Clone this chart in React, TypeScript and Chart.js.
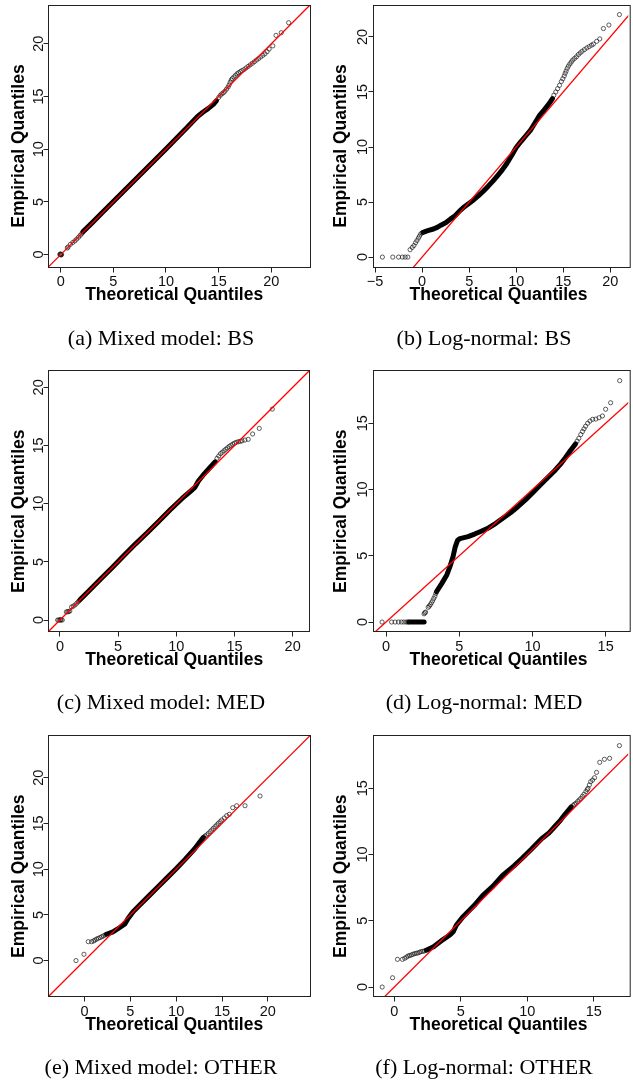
import { useEffect, useRef } from "react";
import { Chart, registerables } from "chart.js";

Chart.register(...registerables);

type Pt = [number, number];

// ---------- (a) Mixed model: BS ----------
const mixedBsBand: Pt[] = [
  [2.1, 2.15], [3, 3.03], [4, 4.03], [5, 5.03], [6, 6.03], [7, 7.02], [8, 8.02],
  [9, 9.02], [10, 10.02], [11, 11.03], [12, 12.05], [13, 13.1], [13.5, 13.5],
  [14.0, 13.85], [14.5, 14.25], [14.8, 14.6],
];
const mixedBsPoints: Pt[] = [
  [-0.08, 0], [0, 0], [0.08, 0], [0, 0.05], [0.04, -0.04], [-0.04, 0.04],
  [0.62, 0.62], [0.7, 0.72], [0.92, 0.97], [1.15, 1.15], [1.35, 1.3], [1.52, 1.47],
  [1.7, 1.65], [1.85, 1.82], [2.0, 1.98],
  [15.0, 14.9], [15.15, 15.1], [15.3, 15.25], [15.45, 15.35], [15.6, 15.5], [15.75, 15.7],
  [15.9, 15.9], [16.0, 16.1], [16.1, 16.35], [16.2, 16.55], [16.3, 16.7], [16.45, 16.85],
  [16.6, 17.0], [16.75, 17.15], [16.9, 17.25], [17.05, 17.35], [17.2, 17.45], [17.4, 17.55],
  [17.6, 17.7], [17.8, 17.85], [18.0, 18.0], [18.2, 18.15], [18.4, 18.3], [18.6, 18.45],
  [18.8, 18.6], [19.0, 18.75], [19.2, 18.9], [19.4, 19.05], [19.6, 19.25], [19.8, 19.5],
  [20.15, 19.8], [20.45, 20.8], [20.95, 21.05], [21.65, 22.0],
];

// ---------- (b) Log-normal: BS ----------
const lognormBsBand: Pt[] = [
  [0.1, 2.25], [0.6, 2.4], [1.2, 2.55], [1.6, 2.7], [2.0, 2.9], [2.5, 3.12], [3.0, 3.45],
  [3.5, 3.75], [4.0, 4.2], [4.5, 4.58], [5.0, 4.9], [5.5, 5.22], [6.0, 5.58], [6.5, 5.98],
  [7.0, 6.42], [7.5, 6.88], [8.0, 7.38], [8.5, 7.9], [9.0, 8.5], [9.5, 9.2], [10.0, 9.95],
  [10.5, 10.5], [11.0, 11.0], [11.5, 11.5], [12.0, 12.2], [12.5, 12.9], [13.0, 13.4],
  [13.5, 13.95], [13.85, 14.4],
];
const lognormBsPoints: Pt[] = [
  [-4.22, 0], [-3.12, 0], [-2.5, 0], [-2.1, 0], [-1.8, 0], [-1.52, 0],
  [-1.28, 0.67], [-1.05, 0.88], [-0.87, 1.05], [-0.7, 1.3], [-0.55, 1.5], [-0.4, 1.72],
  [-0.28, 1.9], [-0.15, 2.1], [0.0, 2.2],
  [14.0, 14.7], [14.2, 15.0], [14.4, 15.3], [14.6, 15.6], [14.8, 15.95], [14.95, 16.2],
  [15.1, 16.45], [15.2, 16.7], [15.3, 16.9], [15.42, 17.15], [15.55, 17.35], [15.7, 17.55],
  [15.85, 17.72], [16.0, 17.9], [16.2, 18.05], [16.4, 18.2], [16.6, 18.4], [16.8, 18.55],
  [17.0, 18.7], [17.25, 18.85], [17.5, 19.0], [17.75, 19.12], [18.0, 19.25], [18.2, 19.35],
  [18.55, 19.6], [18.88, 19.82], [19.27, 20.76], [19.85, 21.08], [20.97, 22.03],
];

// ---------- (c) Mixed model: MED ----------
const mixedMedBand: Pt[] = [
  [1.7, 1.72], [2.5, 2.52], [3.5, 3.52], [4.5, 4.52], [5.5, 5.55], [6.5, 6.55], [7.5, 7.5],
  [8.5, 8.5], [9.5, 9.5], [10.5, 10.45], [11.2, 11.05], [11.6, 11.4], [11.9, 11.95],
  [12.3, 12.45], [12.8, 13.0], [13.35, 13.6],
];
const mixedMedPoints: Pt[] = [
  [-0.2, 0], [-0.1, 0], [0, 0], [0.1, 0], [0.2, 0], [0.05, 0.05],
  [0.55, 0.7], [0.65, 0.72], [0.75, 0.72], [0.85, 0.78], [1.0, 1.12], [1.15, 1.2],
  [1.3, 1.3], [1.45, 1.45], [1.58, 1.58],
  [13.5, 13.9], [13.65, 14.1], [13.8, 14.3], [13.95, 14.42], [14.1, 14.55], [14.25, 14.68],
  [14.4, 14.8], [14.55, 14.92], [14.7, 15.02], [14.85, 15.12], [15.0, 15.2], [15.15, 15.27],
  [15.33, 15.33], [15.5, 15.36], [15.65, 15.4], [15.9, 15.47], [16.18, 15.53],
  [16.56, 15.99], [17.13, 16.47], [18.25, 18.13],
];

// ---------- (d) Log-normal: MED ----------
const lognormMedZeroBand: Pt[] = [[1.55, 0], [2.6, 0]];
const lognormMedBand: Pt[] = [
  [3.45, 2.3], [3.8, 2.9], [4.15, 3.55], [4.4, 4.3], [4.58, 4.95], [4.72, 5.65],
  [4.88, 6.15], [5.05, 6.3], [5.6, 6.45], [6.05, 6.64], [6.5, 6.85], [7.0, 7.1],
  [7.5, 7.45], [8.0, 7.85], [8.5, 8.25], [9.0, 8.7], [9.5, 9.2], [10.0, 9.75],
  [10.5, 10.3], [11.0, 10.85], [11.5, 11.4], [11.9, 11.9], [12.25, 12.4], [12.6, 12.95],
  [12.95, 13.45],
];
const lognormMedPoints: Pt[] = [
  [-0.27, 0], [0.38, 0], [0.62, 0], [0.85, 0], [1.05, 0], [1.22, 0], [1.38, 0], [1.5, 0],
  [2.6, 0.62], [2.65, 0.7], [2.7, 0.75], [2.88, 1.11], [2.95, 1.2], [3.02, 1.3], [3.1, 1.45],
  [3.18, 1.6], [3.26, 1.78], [3.34, 1.95], [3.4, 2.15],
  [13.05, 13.65], [13.17, 13.87], [13.3, 14.15], [13.42, 14.38], [13.52, 14.58],
  [13.63, 14.78], [13.77, 15.0], [13.93, 15.17], [14.11, 15.3], [14.33, 15.32],
  [14.55, 15.42], [14.78, 15.55], [15.0, 16.06], [15.34, 16.55], [15.96, 18.22],
];

// ---------- (e) Mixed model: OTHER ----------
const mixedOtherBand: Pt[] = [
  [2.4, 2.88], [3.1, 3.15], [3.85, 3.62], [4.4, 4.0], [4.75, 4.6], [5.3, 5.35], [6.0, 6.05],
  [7.0, 7.05], [8.0, 8.05], [9.0, 9.05], [10.0, 10.05], [11.0, 11.1], [12.0, 12.2],
  [12.6, 13.0], [12.95, 13.45],
];
const mixedOtherPoints: Pt[] = [
  [-0.93, 0.0], [-0.06, 0.69], [0.41, 2.07], [0.78, 2.07], [1.0, 2.15], [1.14, 2.25],
  [1.32, 2.35], [1.5, 2.44], [1.7, 2.52], [1.88, 2.61], [2.05, 2.7], [2.24, 2.8],
  [13.0, 13.5], [13.15, 13.62], [13.33, 13.74], [13.5, 13.9], [13.7, 14.1], [13.88, 14.28],
  [14.06, 14.46], [14.24, 14.65], [14.42, 14.83], [14.6, 15.02], [14.8, 15.2],
  [14.97, 15.38], [15.25, 15.6], [15.51, 15.85], [15.8, 16.0], [16.17, 16.72],
  [16.6, 16.94], [17.51, 16.94], [19.15, 18.0],
];

// ---------- (f) Log-normal: OTHER ----------
const lognormOtherBand: Pt[] = [
  [2.4, 2.78], [2.95, 3.04], [3.69, 3.6], [4.2, 3.95], [4.43, 4.17], [4.67, 4.68],
  [5.17, 5.31], [6.0, 6.15], [6.64, 6.9], [7.4, 7.6], [8.12, 8.4], [9.0, 9.15],
  [9.59, 9.7], [10.3, 10.4], [11.07, 11.2], [11.6, 11.6], [12.05, 12.1], [12.5, 12.6],
  [12.79, 12.98], [13.3, 13.6],
];
const lognormOtherPoints: Pt[] = [
  [-0.91, 0], [-0.13, 0.7], [0.24, 2.09], [0.61, 2.09], [0.78, 2.17], [0.92, 2.26],
  [1.03, 2.34], [1.15, 2.38], [1.28, 2.42], [1.4, 2.47], [1.52, 2.52], [1.65, 2.55],
  [1.77, 2.57], [1.9, 2.62], [2.01, 2.67], [2.14, 2.7], [2.26, 2.72],
  [13.45, 13.72], [13.55, 13.8], [13.65, 13.87], [13.78, 14.0], [13.9, 14.12],
  [14.02, 14.24], [14.14, 14.4], [14.26, 14.55], [14.4, 14.75], [14.5, 14.9],
  [14.56, 15.0], [14.66, 15.25], [14.76, 15.5], [14.9, 15.62], [15.05, 15.8],
  [15.2, 16.2], [15.44, 16.96], [15.79, 17.19], [16.18, 17.26], [16.92, 18.22],
];

// Reference line y = x (clipped to the plot box)
const identityLine: Pt[] = [[-20, -20], [60, 60]];

const ticksTo20 = [0, 5, 10, 15, 20];
const ticksTo15 = [0, 5, 10, 15];
const ticksFromMinus5 = [-5, 0, 5, 10, 15, 20];

const xTitle = "Theoretical Quantiles";
const yTitle = "Empirical Quantiles";

interface PanelSpec {
  caption: string;
  col: 0 | 1;
  box: { l: number; t: number; r: number; b: number };
  xRange: [number, number];
  yRange: [number, number];
  xTicks: number[];
  yTicks: number[];
  bands: Pt[][];
  points: Pt[];
}

const panels: PanelSpec[] = [
  {
    caption: "(a) Mixed model: BS", col: 0,
    box: { l: 48.3, t: 5, r: 310, b: 267 },
    xRange: [-1.18, 23.68], yRange: [-1.18, 23.68],
    xTicks: ticksTo20, yTicks: ticksTo20,
    bands: [mixedBsBand], points: mixedBsPoints,
  },
  {
    caption: "(b) Log-normal: BS", col: 1,
    box: { l: 373, t: 5, r: 633, b: 267 },
    xRange: [-5.22, 21.9], yRange: [-0.9, 22.9],
    xTicks: ticksFromMinus5, yTicks: ticksTo20,
    bands: [lognormBsBand], points: lognormBsPoints,
  },
  {
    caption: "(c) Mixed model: MED", col: 0,
    box: { l: 48.3, t: 370.7, r: 309.3, b: 631.7 },
    xRange: [-1.0, 21.43], yRange: [-1.0, 21.43],
    xTicks: ticksTo20, yTicks: ticksTo20,
    bands: [mixedMedBand], points: mixedMedPoints,
  },
  {
    caption: "(d) Log-normal: MED", col: 1,
    box: { l: 373, t: 370.7, r: 633, b: 631.7 },
    xRange: [-0.89, 16.54], yRange: [-0.73, 18.97],
    xTicks: ticksTo15, yTicks: ticksTo15,
    bands: [lognormMedZeroBand, lognormMedBand], points: lognormMedPoints,
  },
  {
    caption: "(e) Mixed model: OTHER", col: 0,
    box: { l: 48.3, t: 735.7, r: 310, b: 996.7 },
    xRange: [-3.95, 24.6], yRange: [-3.95, 24.6],
    xTicks: ticksTo20, yTicks: ticksTo20,
    bands: [mixedOtherBand], points: mixedOtherPoints,
  },
  {
    caption: "(f) Log-normal: OTHER", col: 1,
    box: { l: 373, t: 735.7, r: 633, b: 996.7 },
    xRange: [-1.6, 17.58], yRange: [-0.73, 18.97],
    xTicks: ticksTo15, yTicks: ticksTo15,
    bands: [lognormOtherBand], points: lognormOtherPoints,
  },
];

const COLS = [
  { left: 0, width: 318, fullRight: 310, yTickGap: 5, yTitleGap: 24, captionX: 161 },
  { left: 318, width: 315, fullRight: 634, yTickGap: 6.5, yTitleGap: 27, captionX: 484 },
];

const SANS = '"Liberation Sans", Arial, Helvetica, sans-serif';
const SERIF = '"Liberation Serif", "Times New Roman", serif';

const toXY = (pts: Pt[]) => pts.map(([x, y]) => ({ x, y }));

function QQPanel({ spec }: { spec: PanelSpec }) {
  const ref = useRef<HTMLCanvasElement | null>(null);
  const col = COLS[spec.col];
  const canvasLeft = col.left;
  const canvasTop = Math.floor(spec.box.t) - 5;
  const canvasBottom = Math.min(1083, Math.ceil(spec.box.b) + 86);
  const canvasW = col.width;
  const canvasH = canvasBottom - canvasTop;

  useEffect(() => {
    const canvas = ref.current;
    if (!canvas) return;
    const { box } = spec;

    const axesPlugin = {
      id: "rAxes",
      afterDraw(chart: any) {
        const { ctx, chartArea: a, scales } = chart;
        const xs = scales.x;
        const ys = scales.y;
        const snap = (v: number) => Math.round(v - 0.5) + 0.5;
        const L = snap(a.left);
        const T = snap(a.top);
        const B = snap(a.bottom);
        const R = spec.col === 1 ? a.right + 2 : snap(a.right);
        ctx.save();
        ctx.strokeStyle = "#222";
        ctx.lineWidth = 1;
        ctx.strokeRect(L, T, R - L, B - T);

        // tick marks
        ctx.beginPath();
        for (const v of spec.xTicks) {
          const px = snap(xs.getPixelForValue(v));
          ctx.moveTo(px, B);
          ctx.lineTo(px, B + 5);
        }
        for (const v of spec.yTicks) {
          const py = snap(ys.getPixelForValue(v));
          ctx.moveTo(L, py);
          ctx.lineTo(L - 5, py);
        }
        ctx.stroke();

        // tick labels
        ctx.fillStyle = "#111";
        ctx.font = `14.5px ${SANS}`;
        ctx.textAlign = "center";
        ctx.textBaseline = "alphabetic";
        for (const v of spec.xTicks) {
          const label = v < 0 ? "\u2212" + Math.abs(v) : String(v);
          ctx.fillText(label, xs.getPixelForValue(v), a.bottom + 19);
        }
        for (const v of spec.yTicks) {
          ctx.save();
          ctx.translate(a.left - col.yTickGap, ys.getPixelForValue(v));
          ctx.rotate(-Math.PI / 2);
          ctx.fillText(String(v), 0, 0);
          ctx.restore();
        }

        // axis titles
        ctx.fillStyle = "#000";
        ctx.font = `bold 17.5px ${SANS}`;
        const fullRight = col.fullRight - canvasLeft;
        const boxCx = (a.left + fullRight) / 2;
        ctx.fillText(xTitle, boxCx - 5, a.bottom + 33);
        ctx.save();
        ctx.translate(a.left - col.yTitleGap, (a.top + a.bottom) / 2 + 10);
        ctx.rotate(-Math.PI / 2);
        ctx.fillText(yTitle, 0, 0);
        ctx.restore();

        // sub-figure caption
        ctx.font = `22px ${SERIF}`;
        ctx.fillText(spec.caption, col.captionX - canvasLeft, a.bottom + 77.5);
        ctx.restore();
      },
    };

    const datasets: any[] = [
      {
        label: "qqline",
        data: toXY(identityLine),
        showLine: true,
        borderColor: "#ff0000",
        borderWidth: 1.3,
        pointRadius: 0,
        clip: 0,
        order: 0,
      },
      {
        label: "sample",
        data: toXY(spec.points),
        showLine: false,
        pointStyle: "circle",
        pointRadius: 2.1,
        pointBorderWidth: 0.8,
        pointBorderColor: "rgba(20,20,20,0.85)",
        pointBackgroundColor: "rgba(0,0,0,0)",
        clip: false,
        order: 1,
      },
      ...spec.bands.map((band, i) => ({
        label: `dense${i}`,
        data: toXY(band),
        showLine: true,
        borderColor: "#000",
        borderWidth: 5,
        borderCapStyle: "round",
        borderJoinStyle: "round",
        pointRadius: 0,
        tension: 0,
        clip: false,
        order: 2,
      })),
    ];

    const chart = new Chart(canvas, {
      type: "scatter",
      data: { datasets },
      plugins: [axesPlugin],
      options: {
        responsive: false,
        animation: false,
        events: [],
        layout: {
          padding: {
            left: box.l - canvasLeft,
            top: box.t - canvasTop,
            right: canvasLeft + canvasW - box.r,
            bottom: canvasTop + canvasH - box.b,
          },
        },
        plugins: { legend: { display: false }, tooltip: { enabled: false } },
        scales: {
          x: { type: "linear", min: spec.xRange[0], max: spec.xRange[1], display: false },
          y: { type: "linear", min: spec.yRange[0], max: spec.yRange[1], display: false },
        },
      } as any,
    });
    return () => chart.destroy();
  }, [spec]);

  return (
    <canvas
      ref={ref}
      width={canvasW}
      height={canvasH}
      style={{
        position: "absolute",
        left: canvasLeft,
        top: canvasTop,
        width: canvasW,
        height: canvasH,
      }}
    />
  );
}

export default function App() {
  return (
    <div
      style={{
        position: "absolute",
        left: 0,
        top: 0,
        width: 633,
        height: 1083,
        background: "#fff",
        overflow: "hidden",
      }}
    >
      {panels.map((p) => (
        <QQPanel key={p.caption} spec={p} />
      ))}
    </div>
  );
}
